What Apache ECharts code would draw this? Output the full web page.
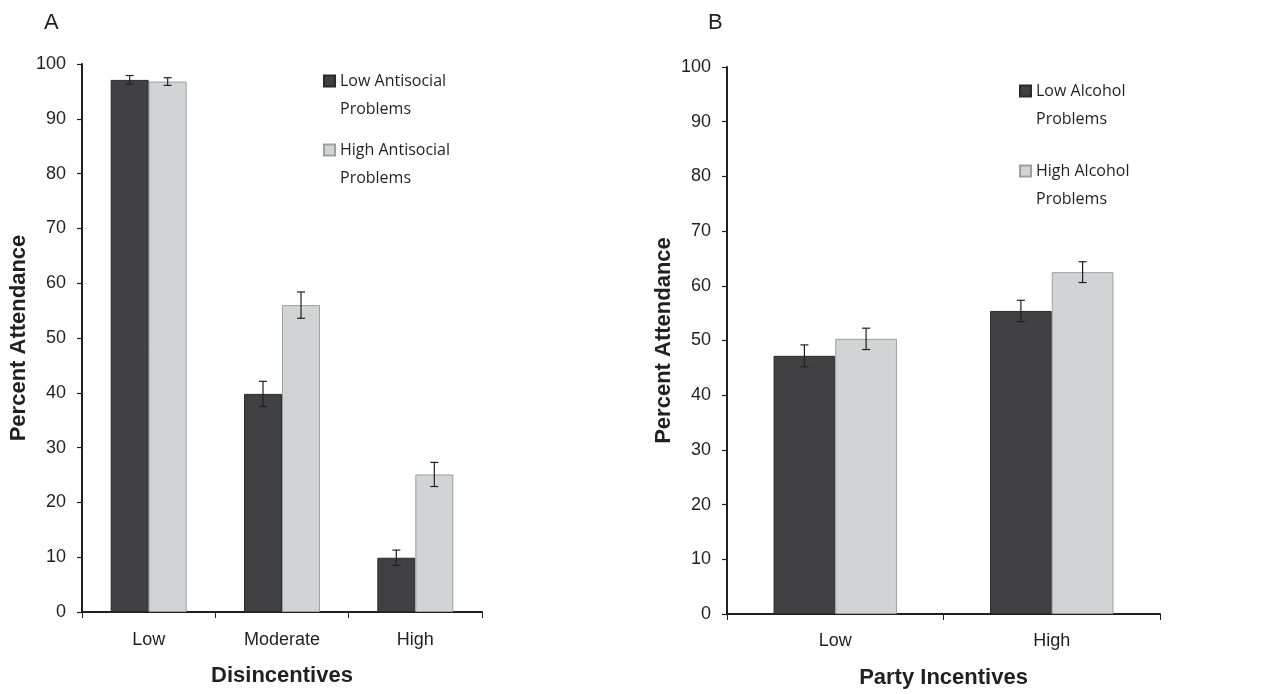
<!DOCTYPE html>
<html><head><meta charset="utf-8">
<script src="https://cdn.jsdelivr.net/npm/echarts@6/dist/echarts.min.js"></script>
<style>html,body{margin:0;padding:0;background:#fff}#c{width:1277px;height:694px}</style>
</head><body><div id="c"></div>
<script>
// Panel A data
const catsA = ['Low', 'Moderate', 'High'];
const lowAntisocial = [97.1, 39.8, 9.9];
const lowAntisocialErr = [0.8, 2.3, 1.4];
const highAntisocial = [96.8, 56.0, 25.1];
const highAntisocialErr = [0.7, 2.4, 2.2];
// Panel B data
const catsB = ['Low', 'High'];
const lowAlcohol = [47.2, 55.4];
const lowAlcoholErr = [2.0, 1.95];
const highAlcohol = [50.3, 62.5];
const highAlcoholErr = [1.95, 1.9];
const yTicks = [0, 10, 20, 30, 40, 50, 60, 70, 80, 90, 100];

const DARK = '#414143', LIGHT = '#d1d3d4', INK = '#231f20';
const GAP = 0.43;
const chart = echarts.init(document.getElementById('c'));

function errData(vals, errs, side) {
  return vals.map((v, i) => [i, v - errs[i], v + errs[i], side]);
}
function errSeries(name, xi, vals, errs, side) {
  return {
    type: 'custom', name: name + ' err', xAxisIndex: xi, yAxisIndex: xi, z: 5,
    data: errData(vals, errs, side),
    renderItem: function (params, api) {
      const idx = api.value(0);
      const lo = api.coord([idx, api.value(1)]);
      const hi = api.coord([idx, api.value(2)]);
      const band = api.size([1, 0])[0];
      const bw = band * (1 - GAP) / 2;
      const x = lo[0] + api.value(3) * bw / 2;
      const c = 4;
      const st = { stroke: INK, lineWidth: 1.2 };
      return { type: 'group', children: [
        { type: 'line', shape: { x1: x, y1: lo[1], x2: x, y2: hi[1] }, style: st },
        { type: 'line', shape: { x1: x - c, y1: lo[1], x2: x + c, y2: lo[1] }, style: st },
        { type: 'line', shape: { x1: x - c, y1: hi[1], x2: x + c, y2: hi[1] }, style: st }
      ]};
    }
  };
}
function barSeries(name, xi, vals, color, border) {
  return {
    type: 'bar', name: name, xAxisIndex: xi, yAxisIndex: xi, data: vals,
    barGap: '0%', barCategoryGap: (GAP * 100) + '%',
    itemStyle: { color: color, borderColor: border, borderWidth: 1 }
  };
}
function xAx(cats, gi, name, gapName, lblMargin) {
  return {
    type: 'category', gridIndex: gi, data: cats,
    name: name, nameLocation: 'middle', nameGap: gapName,
    nameTextStyle: { fontFamily: 'Liberation Sans', fontWeight: 'bold', fontSize: 22, color: INK },
    axisLine: { lineStyle: { color: INK, width: 2 } },
    axisTick: { show: true, length: 6, lineStyle: { color: INK, width: 1 } },
    axisLabel: { fontFamily: 'Liberation Sans', fontSize: 18, color: INK, margin: lblMargin }
  };
}
function yAx(gi, nameGap) {
  return {
    type: 'value', gridIndex: gi, min: 0, max: 100, interval: 10,
    name: 'Percent Attendance', nameLocation: 'middle', nameGap: nameGap,
    nameTextStyle: { fontFamily: 'Liberation Sans', fontWeight: 'bold', fontSize: 22, color: INK },
    axisLine: { show: true, lineStyle: { color: INK, width: 2 } },
    axisTick: { show: true, length: 5, lineStyle: { color: INK, width: 1.2 } },
    splitLine: { show: false },
    axisLabel: { fontFamily: 'Liberation Sans', fontSize: 18, color: INK, margin: 16,
      formatter: v => yTicks.includes(v) ? String(v) : '' }
  };
}
function leg(name, left, top) {
  return {
    data: [{ name: name, icon: 'rect' }], left: left, top: top, orient: 'vertical',
    itemWidth: 11, itemHeight: 11, selectedMode: false, padding: 0,
    formatter: n => ' \n' + n.replace(' Problems', '\nProblems'),
    textStyle: { fontFamily: 'Open Sans', fontSize: 16, color: INK, lineHeight: 28 }
  };
}

chart.setOption({
  animation: false,
  title: [
    { text: 'A', left: 39, top: 7, textStyle: { fontFamily: 'Liberation Sans', fontWeight: 'normal', fontSize: 22, color: INK } },
    { text: 'B', left: 703, top: 7, textStyle: { fontFamily: 'Liberation Sans', fontWeight: 'normal', fontSize: 22, color: INK } }
  ],
  grid: [
    { left: 82, top: 64, right: 795, bottom: 82 },
    { left: 727, top: 67, right: 117, bottom: 78 }
  ],
  legend: [
    leg('Low Antisocial Problems', 323, 39),
    leg('High Antisocial Problems', 323, 108),
    leg('Low Alcohol Problems', 1019, 49),
    leg('High Alcohol Problems', 1019, 129)
  ],
  xAxis: [xAx(catsA, 0, 'Disincentives', 53, 19), xAx(catsB, 1, 'Party Incentives', 53, 18)],
  yAxis: [yAx(0, 52), yAx(1, 52)],
  series: [
    barSeries('Low Antisocial Problems', 0, lowAntisocial, DARK, '#2b2a2c'),
    barSeries('High Antisocial Problems', 0, highAntisocial, LIGHT, '#9d9fa2'),
    errSeries('Low Antisocial Problems', 0, lowAntisocial, lowAntisocialErr, -1),
    errSeries('High Antisocial Problems', 0, highAntisocial, highAntisocialErr, 1),
    barSeries('Low Alcohol Problems', 1, lowAlcohol, DARK, '#2b2a2c'),
    barSeries('High Alcohol Problems', 1, highAlcohol, LIGHT, '#9d9fa2'),
    errSeries('Low Alcohol Problems', 1, lowAlcohol, lowAlcoholErr, -1),
    errSeries('High Alcohol Problems', 1, highAlcohol, highAlcoholErr, 1)
  ]
});
</script></body></html>
